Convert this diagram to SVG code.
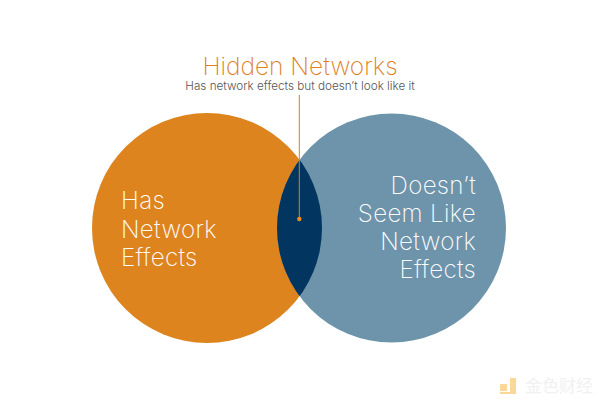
<svg xmlns="http://www.w3.org/2000/svg" width="600" height="400" viewBox="0 0 600 400">
<style>
.big{font-family:"Inter","Liberation Sans",sans-serif;font-weight:200;font-size:24.200px;letter-spacing:.3px;fill:#fff}
.t{font-family:"Inter","Liberation Sans",sans-serif;font-weight:200}
</style>
<defs><clipPath id="c"><circle cx="207" cy="228" r="115"/></clipPath></defs>
<rect width="600" height="400" fill="#fff"/>
<g id="node-has"><circle cx="207" cy="228" r="115" fill="#de841e"/>
<text class="big" x="121" y="209">Has</text><text class="big" x="121" y="238">Network</text><text class="big" x="121" y="266">Effects</text></g>
<g id="node-doesnt"><circle cx="391.5" cy="228" r="114.5" fill="#6e94ab"/>
<text class="big" text-anchor="end" x="476" y="194">Doesn’t</text><text class="big" text-anchor="end" x="476" y="222">Seem Like</text><text class="big" text-anchor="end" x="476" y="250">Network</text><text class="big" text-anchor="end" x="476" y="278">Effects</text></g>
<g id="node-hidden"><circle cx="391.5" cy="228" r="114.5" fill="#02355f" clip-path="url(#c)"/>
<text class="t" x="300" y="75" text-anchor="middle" font-size="24.500" fill="#de7f1e">Hidden Networks</text>
<text class="t" x="300" y="90" text-anchor="middle" font-size="11.700" fill="#555" style="font-weight:300">Has network effects but doesn’t look like it</text></g>
<g id="connectors"><line x1="299.300" y1="95" x2="299.300" y2="219" stroke="#d9801c" stroke-width="1"/><circle cx="299.300" cy="219" r="2.200" fill="#f08a1e"/></g>
<g id="watermark"><path d="M500 384h7v7h-7zM510 378h6v16h-16v-2h10z" fill="#fbd79a"/>
<text x="525" y="392" font-family="'Noto Sans CJK SC',sans-serif" font-size="17" fill="#f1f1f1">金色财经</text></g>
</svg>
